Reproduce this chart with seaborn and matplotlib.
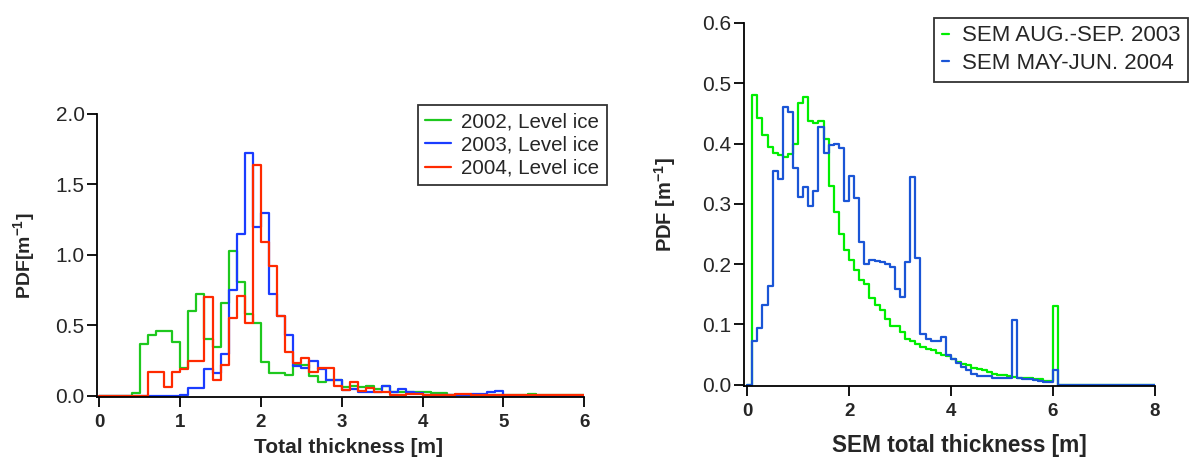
import numpy as np
import pandas as pd
import matplotlib
matplotlib.use("Agg")
import matplotlib.pyplot as plt
from matplotlib.lines import Line2D
import seaborn as sns

# ---- data (PDF per 0.1 m bin) ----
level_labels = ["2002, Level ice", "2003, Level ice", "2004, Level ice"]

pdf_2002 = [0, 0, 0, 0, 0.02, 0.37, 0.43, 0.46, 0.46, 0.38,
            0.20, 0.60, 0.72, 0.40, 0.35, 0.66, 1.03, 0.81, 0.58, 0.52,
            0.24, 0.16, 0.16, 0.145, 0.22, 0.22, 0.14, 0.095, 0.11, 0.11,
            0.066, 0.07, 0.066, 0.07, 0.047, 0.07, 0.03, 0.024, 0.024, 0.024,
            0.024, 0.017, 0.017, 0.008, 0.005, 0.005, 0.005, 0.004, 0.004, 0.004,
            0.004, 0.004, 0.004, 0.015, 0.003, 0.003, 0.003, 0.003, 0.003, 0.003]

pdf_2003 = [0, 0, 0, 0, 0, 0, 0, 0, 0, 0,
            0.007, 0.055, 0.055, 0.19, 0.16, 0.30, 0.75, 1.15, 1.72, 1.20,
            1.30, 0.72, 0.57, 0.43, 0.21, 0.20, 0.25, 0.19, 0.11, 0.11,
            0.04, 0.047, 0.024, 0.03, 0.03, 0.07, 0.024, 0.05, 0.024, 0.02,
            0.007, 0.005, 0.005, 0.003, 0.007, 0.007, 0.012, 0.012, 0.026, 0.038,
            0, 0, 0, 0, 0, 0, 0, 0, 0, 0]

pdf_2004 = [0, 0, 0, 0, 0, 0, 0.17, 0.17, 0.06, 0.17,
            0.19, 0.25, 0.25, 0.70, 0.11, 0.22, 0.55, 0.71, 0.52, 1.64,
            1.09, 0.92, 0.57, 0.31, 0.23, 0.27, 0.17, 0.20, 0.20, 0.07,
            0.04, 0.095, 0.035, 0.055, 0.025, 0.025, 0.008, 0.008, 0.014, 0.014,
            0.004, 0.004, 0.004, 0.004, 0.012, 0.012, 0.003, 0.003, 0.003, 0.003,
            0.003, 0.003, 0.003, 0.003, 0.003, 0.003, 0.003, 0.003, 0.003, 0.003]

sem_labels = ["SEM AUG.-SEP. 2003", "SEM MAY-JUN. 2004"]

sem_2003 = [0, 0.48, 0.442, 0.414, 0.394, 0.384, 0.381, 0.378, 0.382, 0.399,
            0.468, 0.477, 0.438, 0.434, 0.438, 0.408, 0.33, 0.287, 0.25, 0.223,
            0.207, 0.19, 0.174, 0.167, 0.144, 0.133, 0.124, 0.109, 0.097, 0.097,
            0.087, 0.076, 0.072, 0.068, 0.062, 0.059, 0.057, 0.052, 0.05, 0.047,
            0.043, 0.038, 0.035, 0.032, 0.028, 0.026, 0.025, 0.022, 0.018, 0.017,
            0.016, 0.014, 0.013, 0.012, 0.011, 0.011, 0.010, 0.010, 0.007, 0.007,
            0.13, 0, 0, 0, 0, 0, 0, 0, 0, 0,
            0, 0, 0, 0, 0, 0, 0, 0, 0, 0]

sem_2004 = [0, 0.072, 0.094, 0.133, 0.163, 0.354, 0.341, 0.461, 0.452, 0.359,
            0.312, 0.328, 0.297, 0.322, 0.427, 0.385, 0.398, 0.40, 0.392, 0.305,
            0.346, 0.31, 0.236, 0.20, 0.207, 0.206, 0.204, 0.20, 0.196, 0.159,
            0.145, 0.204, 0.345, 0.21, 0.085, 0.076, 0.072, 0.072, 0.08, 0.05,
            0.043, 0.036, 0.03, 0.024, 0.018, 0.015, 0.014, 0.014, 0.012, 0.012,
            0.012, 0.012, 0.107, 0.011, 0.010, 0.009, 0.008, 0.006, 0.004, 0.004,
            0.024, 0, 0, 0, 0, 0, 0, 0, 0, 0,
            0, 0, 0, 0, 0, 0, 0, 0, 0, 0]

bin_width = 0.1

sns.set_style("ticks")
plt.rcParams["font.family"] = ["Liberation Sans", "DejaVu Sans"]
plt.rcParams["mathtext.fontset"] = "custom"
plt.rcParams["mathtext.rm"] = "Liberation Sans"
plt.rcParams["mathtext.bf"] = "Liberation Sans:bold"


def step_hist(ax, values, color, lw):
    n = len(values)
    df = pd.DataFrame({"x": (np.arange(n) + 0.5) * bin_width,
                       "w": np.asarray(values, dtype=float)})
    sns.histplot(data=df, x="x", weights="w", bins=n, binrange=(0, n * bin_width),
                 element="step", fill=False, color=color, linewidth=lw, ax=ax)


def style_axes(ax):
    sns.despine(ax=ax)
    for s in ["left", "bottom"]:
        ax.spines[s].set_linewidth(1.3)
        ax.spines[s].set_color("black")
    ax.tick_params(axis="both", direction="out", length=7, width=1.3, color="black")
    ax.tick_params(axis="y", labelsize=15, pad=2)
    ax.tick_params(axis="x", labelsize=13.5, pad=5)
    for t in ax.get_xticklabels():
        t.set_fontweight("bold")


fig = plt.figure(figsize=(11.92, 4.57), dpi=100)
ax1 = fig.add_axes([0.0814, 0.1313, 0.4086, 0.6193])
ax2 = fig.add_axes([0.6242, 0.1554, 0.3448, 0.7943])

# ---- left: level ice PDFs ----
left_colors = ["#1ec81e", "#1a3cff", "#ff2a00"]
for vals, c in zip([pdf_2002, pdf_2003, pdf_2004], left_colors):
    step_hist(ax1, vals, c, 1.6)

ax1.set_xlim(-0.03, 6.0)
ax1.set_ylim(-0.008, 2.0)
ax1.set_xticks(range(0, 7))
ax1.set_yticks([0.0, 0.5, 1.0, 1.5, 2.0])
style_axes(ax1)
ax1.set_xlabel("Total thickness [m]", fontsize=15, fontweight="bold")
ax1.set_ylabel(r"PDF[m$^{\mathbf{-1}}$]", fontsize=14, fontweight="bold")
ax1.xaxis.set_label_coords(0.517, -0.145)
ax1.yaxis.set_label_coords(-0.121, 0.5)

h1 = [Line2D([], [], color=c, lw=1.6) for c in left_colors]
leg1 = ax1.legend(h1, level_labels, loc="upper right", bbox_to_anchor=(1.047, 1.032),
                  fontsize=14.8, frameon=True, fancybox=False, handlelength=1.25,
                  handletextpad=0.5, labelspacing=0.2, borderpad=0.37,
                  borderaxespad=0)
leg1.get_frame().set_edgecolor("black")
leg1.get_frame().set_linewidth(1.3)

# ---- right: SEM PDFs ----
right_colors = ["#00ee00", "#1a55d6"]
for vals, c in zip([sem_2003, sem_2004], right_colors):
    step_hist(ax2, vals, c, 1.6)

ax2.set_xlim(-0.06, 8.0)
ax2.set_ylim(-0.002, 0.6)
ax2.set_xticks([0, 2, 4, 6, 8])
ax2.set_yticks([0.0, 0.1, 0.2, 0.3, 0.4, 0.5, 0.6])
style_axes(ax2)
ax2.set_xlabel("SEM total thickness [m]", fontsize=16.3, fontweight="bold")
ax2.set_ylabel(r"PDF [m$^{\mathbf{-1}}$]", fontsize=14.5, fontweight="bold")
ax2.xaxis.set_label_coords(0.523, -0.132)
ax2.yaxis.set_label_coords(-0.161, 0.5)

h2 = [Line2D([], [], color=c, lw=1.6) for c in right_colors]
leg2 = ax2.legend(h2, sem_labels, loc="upper right", bbox_to_anchor=(1.080, 1.014),
                  fontsize=16, frameon=True, fancybox=False, handlelength=0.3,
                  handletextpad=0.6, labelspacing=0.3, borderpad=0.34,
                  borderaxespad=0)
leg2.get_frame().set_edgecolor("black")
leg2.get_frame().set_linewidth(1.3)

fig.savefig("out.png", dpi=100)
